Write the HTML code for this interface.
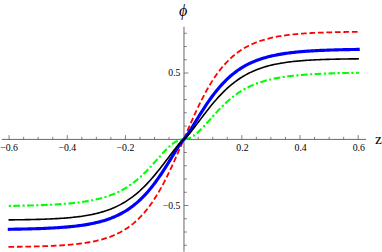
<!DOCTYPE html>
<html><head><meta charset="utf-8"><title>plot</title>
<style>
html,body{margin:0;padding:0;background:#fff;}
body{width:382px;height:252px;overflow:hidden;font-family:"Liberation Serif",serif;}
svg{display:block;}
text{font-family:"Liberation Serif",serif;fill:#000;}
</style></head><body>
<svg width="382" height="252" viewBox="0 0 382 252">
<rect width="382" height="252" fill="#fff"/>
<g stroke="#4d4d4d" stroke-width="0.85" fill="none">
<line x1="1.8" y1="139.40" x2="366" y2="139.40"/>
<line x1="183.97" y1="26.8" x2="183.97" y2="251.7"/>
</g>
<g stroke="#4d4d4d" stroke-width="0.7" fill="none">
<line x1="9.08" y1="139.40" x2="9.08" y2="135.10"/>
<line x1="23.63" y1="139.40" x2="23.63" y2="136.80"/>
<line x1="38.17" y1="139.40" x2="38.17" y2="136.80"/>
<line x1="52.72" y1="139.40" x2="52.72" y2="136.80"/>
<line x1="67.27" y1="139.40" x2="67.27" y2="135.10"/>
<line x1="81.81" y1="139.40" x2="81.81" y2="136.80"/>
<line x1="96.36" y1="139.40" x2="96.36" y2="136.80"/>
<line x1="110.91" y1="139.40" x2="110.91" y2="136.80"/>
<line x1="125.45" y1="139.40" x2="125.45" y2="135.10"/>
<line x1="140.00" y1="139.40" x2="140.00" y2="136.80"/>
<line x1="154.55" y1="139.40" x2="154.55" y2="136.80"/>
<line x1="169.09" y1="139.40" x2="169.09" y2="136.80"/>
<line x1="198.19" y1="139.40" x2="198.19" y2="136.80"/>
<line x1="212.73" y1="139.40" x2="212.73" y2="136.80"/>
<line x1="227.28" y1="139.40" x2="227.28" y2="136.80"/>
<line x1="241.83" y1="139.40" x2="241.83" y2="135.10"/>
<line x1="256.37" y1="139.40" x2="256.37" y2="136.80"/>
<line x1="270.92" y1="139.40" x2="270.92" y2="136.80"/>
<line x1="285.47" y1="139.40" x2="285.47" y2="136.80"/>
<line x1="300.01" y1="139.40" x2="300.01" y2="135.10"/>
<line x1="314.56" y1="139.40" x2="314.56" y2="136.80"/>
<line x1="329.11" y1="139.40" x2="329.11" y2="136.80"/>
<line x1="343.65" y1="139.40" x2="343.65" y2="136.80"/>
<line x1="358.20" y1="139.40" x2="358.20" y2="135.10"/>
<line x1="183.97" y1="245.27" x2="186.77" y2="245.27"/>
<line x1="183.97" y1="232.02" x2="186.77" y2="232.02"/>
<line x1="183.97" y1="218.77" x2="186.77" y2="218.77"/>
<line x1="183.97" y1="205.53" x2="188.47" y2="205.53"/>
<line x1="183.97" y1="192.28" x2="186.77" y2="192.28"/>
<line x1="183.97" y1="179.03" x2="186.77" y2="179.03"/>
<line x1="183.97" y1="165.78" x2="186.77" y2="165.78"/>
<line x1="183.97" y1="152.53" x2="186.77" y2="152.53"/>
<line x1="183.97" y1="126.03" x2="186.77" y2="126.03"/>
<line x1="183.97" y1="112.78" x2="186.77" y2="112.78"/>
<line x1="183.97" y1="99.53" x2="186.77" y2="99.53"/>
<line x1="183.97" y1="86.28" x2="186.77" y2="86.28"/>
<line x1="183.97" y1="73.03" x2="188.47" y2="73.03"/>
<line x1="183.97" y1="59.79" x2="186.77" y2="59.79"/>
<line x1="183.97" y1="46.54" x2="186.77" y2="46.54"/>
<line x1="183.97" y1="33.29" x2="186.77" y2="33.29"/>
</g>
<path d="M9.33 246.87 L10.78 246.86 L12.24 246.84 L13.69 246.82 L15.14 246.81 L16.60 246.79 L18.05 246.77 L19.50 246.75 L20.96 246.73 L22.41 246.71 L23.87 246.68 L25.32 246.66 L26.77 246.63 L28.23 246.61 L29.68 246.58 L31.13 246.55 L32.59 246.51 L34.04 246.48 L35.49 246.44 L36.95 246.41 L38.40 246.37 L39.85 246.32 L41.31 246.28 L42.76 246.23 L44.21 246.18 L45.67 246.13 L47.12 246.08 L48.57 246.02 L50.03 245.96 L51.48 245.89 L52.94 245.83 L54.39 245.76 L55.84 245.68 L57.30 245.60 L58.75 245.52 L60.20 245.43 L61.66 245.34 L63.11 245.24 L64.56 245.14 L66.02 245.03 L67.47 244.92 L68.92 244.80 L70.38 244.67 L71.83 244.53 L73.28 244.39 L74.74 244.25 L76.19 244.09 L77.64 243.92 L79.10 243.75 L80.55 243.57 L82.01 243.37 L83.46 243.17 L84.91 242.96 L86.37 242.73 L87.82 242.49 L89.27 242.24 L90.73 241.98 L92.18 241.70 L93.63 241.41 L95.09 241.10 L96.54 240.77 L97.99 240.43 L99.45 240.07 L100.90 239.69 L102.35 239.29 L103.81 238.86 L105.26 238.42 L106.71 237.95 L108.17 237.46 L109.62 236.94 L111.08 236.40 L112.53 235.82 L113.98 235.22 L115.44 234.58 L116.89 233.91 L118.34 233.21 L119.80 232.47 L121.25 231.69 L122.70 230.87 L124.16 230.01 L125.61 229.11 L127.06 228.16 L128.52 227.16 L129.97 226.11 L131.42 225.01 L132.88 223.86 L134.33 222.65 L135.78 221.38 L137.24 220.05 L138.69 218.66 L140.15 217.20 L141.60 215.68 L143.05 214.09 L144.51 212.42 L145.96 210.68 L147.41 208.87 L148.87 206.97 L150.32 205.00 L151.77 202.95 L153.23 200.82 L154.68 198.61 L156.13 196.31 L157.59 193.93 L159.04 191.46 L160.49 188.92 L161.95 186.29 L163.40 183.59 L164.85 180.80 L166.31 177.94 L167.76 175.01 L169.22 172.01 L170.67 168.94 L172.12 165.81 L173.58 162.63 L175.03 159.40 L176.48 156.13 L177.94 152.82 L179.39 149.48 L180.84 146.11 L182.30 142.74 L183.75 139.35 L185.20 135.96 L186.66 132.59 L188.11 129.22 L189.56 125.88 L191.02 122.57 L192.47 119.30 L193.92 116.07 L195.38 112.89 L196.83 109.76 L198.29 106.69 L199.74 103.69 L201.19 100.76 L202.65 97.90 L204.10 95.11 L205.55 92.41 L207.01 89.78 L208.46 87.24 L209.91 84.77 L211.37 82.39 L212.82 80.09 L214.27 77.88 L215.73 75.75 L217.18 73.70 L218.63 71.73 L220.09 69.83 L221.54 68.02 L222.99 66.28 L224.45 64.61 L225.90 63.02 L227.36 61.50 L228.81 60.04 L230.26 58.65 L231.72 57.32 L233.17 56.05 L234.62 54.84 L236.08 53.69 L237.53 52.59 L238.98 51.54 L240.44 50.54 L241.89 49.59 L243.34 48.69 L244.80 47.83 L246.25 47.01 L247.70 46.23 L249.16 45.49 L250.61 44.79 L252.06 44.12 L253.52 43.48 L254.97 42.88 L256.43 42.30 L257.88 41.76 L259.33 41.24 L260.79 40.75 L262.24 40.28 L263.69 39.84 L265.15 39.41 L266.60 39.01 L268.05 38.63 L269.51 38.27 L270.96 37.93 L272.41 37.60 L273.87 37.29 L275.32 37.00 L276.77 36.72 L278.23 36.46 L279.68 36.21 L281.13 35.97 L282.59 35.74 L284.04 35.53 L285.50 35.33 L286.95 35.13 L288.40 34.95 L289.86 34.78 L291.31 34.61 L292.76 34.45 L294.22 34.31 L295.67 34.17 L297.12 34.03 L298.58 33.90 L300.03 33.78 L301.48 33.67 L302.94 33.56 L304.39 33.46 L305.84 33.36 L307.30 33.27 L308.75 33.18 L310.20 33.10 L311.66 33.02 L313.11 32.94 L314.57 32.87 L316.02 32.81 L317.47 32.74 L318.93 32.68 L320.38 32.62 L321.83 32.57 L323.29 32.52 L324.74 32.47 L326.19 32.42 L327.65 32.38 L329.10 32.33 L330.55 32.29 L332.01 32.26 L333.46 32.22 L334.91 32.19 L336.37 32.15 L337.82 32.12 L339.27 32.09 L340.73 32.07 L342.18 32.04 L343.63 32.02 L345.09 31.99 L346.54 31.97 L348.00 31.95 L349.45 31.93 L350.90 31.91 L352.36 31.89 L353.81 31.88 L355.26 31.86 L356.72 31.84 L358.17 31.83" fill="none" stroke="#ff0000" stroke-width="1.8" stroke-dasharray="3.9 4.587" stroke-linejoin="round" stroke-linecap="square"/>
<path d="M9.33 205.93 L10.78 205.91 L12.24 205.89 L13.69 205.86 L15.14 205.84 L16.60 205.81 L18.05 205.78 L19.50 205.75 L20.96 205.72 L22.41 205.69 L23.87 205.66 L25.32 205.62 L26.77 205.59 L28.23 205.55 L29.68 205.51 L31.13 205.47 L32.59 205.43 L34.04 205.39 L35.49 205.34 L36.95 205.29 L38.40 205.24 L39.85 205.19 L41.31 205.14 L42.76 205.08 L44.21 205.02 L45.67 204.96 L47.12 204.89 L48.57 204.83 L50.03 204.75 L51.48 204.68 L52.94 204.60 L54.39 204.52 L55.84 204.44 L57.30 204.35 L58.75 204.26 L60.20 204.16 L61.66 204.06 L63.11 203.95 L64.56 203.84 L66.02 203.72 L67.47 203.60 L68.92 203.47 L70.38 203.34 L71.83 203.20 L73.28 203.05 L74.74 202.89 L76.19 202.73 L77.64 202.56 L79.10 202.38 L80.55 202.19 L82.01 201.99 L83.46 201.78 L84.91 201.57 L86.37 201.34 L87.82 201.10 L89.27 200.84 L90.73 200.58 L92.18 200.30 L93.63 200.00 L95.09 199.70 L96.54 199.37 L97.99 199.03 L99.45 198.67 L100.90 198.30 L102.35 197.90 L103.81 197.48 L105.26 197.05 L106.71 196.59 L108.17 196.11 L109.62 195.60 L111.08 195.07 L112.53 194.51 L113.98 193.92 L115.44 193.30 L116.89 192.65 L118.34 191.98 L119.80 191.26 L121.25 190.52 L122.70 189.74 L124.16 188.92 L125.61 188.06 L127.06 187.17 L128.52 186.23 L129.97 185.25 L131.42 184.23 L132.88 183.17 L134.33 182.07 L135.78 180.92 L137.24 179.72 L138.69 178.48 L140.15 177.20 L141.60 175.87 L143.05 174.50 L144.51 173.09 L145.96 171.64 L147.41 170.15 L148.87 168.63 L150.32 167.08 L151.77 165.50 L153.23 163.89 L154.68 162.27 L156.13 160.64 L157.59 159.00 L159.04 157.36 L160.49 155.73 L161.95 154.13 L163.40 152.55 L164.85 151.01 L166.31 149.51 L167.76 148.08 L169.22 146.72 L170.67 145.43 L172.12 144.25 L173.58 143.16 L175.03 142.20 L176.48 141.36 L177.94 140.65 L179.39 140.09 L180.84 139.68 L182.30 139.43 L183.75 139.35 L185.20 139.27 L186.66 139.02 L188.11 138.61 L189.56 138.05 L191.02 137.34 L192.47 136.50 L193.92 135.54 L195.38 134.45 L196.83 133.27 L198.29 131.98 L199.74 130.62 L201.19 129.19 L202.65 127.69 L204.10 126.15 L205.55 124.57 L207.01 122.97 L208.46 121.34 L209.91 119.70 L211.37 118.06 L212.82 116.43 L214.27 114.81 L215.73 113.20 L217.18 111.62 L218.63 110.07 L220.09 108.55 L221.54 107.06 L222.99 105.61 L224.45 104.20 L225.90 102.83 L227.36 101.50 L228.81 100.22 L230.26 98.98 L231.72 97.78 L233.17 96.63 L234.62 95.53 L236.08 94.47 L237.53 93.45 L238.98 92.47 L240.44 91.53 L241.89 90.64 L243.34 89.78 L244.80 88.96 L246.25 88.18 L247.70 87.44 L249.16 86.72 L250.61 86.05 L252.06 85.40 L253.52 84.78 L254.97 84.19 L256.43 83.63 L257.88 83.10 L259.33 82.59 L260.79 82.11 L262.24 81.65 L263.69 81.22 L265.15 80.80 L266.60 80.40 L268.05 80.03 L269.51 79.67 L270.96 79.33 L272.41 79.00 L273.87 78.70 L275.32 78.40 L276.77 78.12 L278.23 77.86 L279.68 77.60 L281.13 77.36 L282.59 77.13 L284.04 76.92 L285.50 76.71 L286.95 76.51 L288.40 76.32 L289.86 76.14 L291.31 75.97 L292.76 75.81 L294.22 75.65 L295.67 75.50 L297.12 75.36 L298.58 75.23 L300.03 75.10 L301.48 74.98 L302.94 74.86 L304.39 74.75 L305.84 74.64 L307.30 74.54 L308.75 74.44 L310.20 74.35 L311.66 74.26 L313.11 74.18 L314.57 74.10 L316.02 74.02 L317.47 73.95 L318.93 73.87 L320.38 73.81 L321.83 73.74 L323.29 73.68 L324.74 73.62 L326.19 73.56 L327.65 73.51 L329.10 73.46 L330.55 73.41 L332.01 73.36 L333.46 73.31 L334.91 73.27 L336.37 73.23 L337.82 73.19 L339.27 73.15 L340.73 73.11 L342.18 73.08 L343.63 73.04 L345.09 73.01 L346.54 72.98 L348.00 72.95 L349.45 72.92 L350.90 72.89 L352.36 72.86 L353.81 72.84 L355.26 72.81 L356.72 72.79 L358.17 72.77" fill="none" stroke="#00ff00" stroke-width="2.1" stroke-dasharray="0 4.59 4.59 4.59" stroke-dashoffset="-0.5" stroke-linejoin="round" stroke-linecap="square"/>
<path d="M9.33 229.28 L10.78 229.26 L12.24 229.24 L13.69 229.21 L15.14 229.19 L16.60 229.16 L18.05 229.14 L19.50 229.11 L20.96 229.08 L22.41 229.05 L23.87 229.02 L25.32 228.98 L26.77 228.95 L28.23 228.91 L29.68 228.87 L31.13 228.84 L32.59 228.79 L34.04 228.75 L35.49 228.71 L36.95 228.66 L38.40 228.61 L39.85 228.56 L41.31 228.50 L42.76 228.45 L44.21 228.39 L45.67 228.32 L47.12 228.26 L48.57 228.19 L50.03 228.12 L51.48 228.04 L52.94 227.97 L54.39 227.88 L55.84 227.80 L57.30 227.71 L58.75 227.61 L60.20 227.51 L61.66 227.41 L63.11 227.30 L64.56 227.19 L66.02 227.07 L67.47 226.94 L68.92 226.81 L70.38 226.67 L71.83 226.52 L73.28 226.37 L74.74 226.21 L76.19 226.04 L77.64 225.87 L79.10 225.68 L80.55 225.48 L82.01 225.28 L83.46 225.07 L84.91 224.84 L86.37 224.60 L87.82 224.35 L89.27 224.09 L90.73 223.82 L92.18 223.53 L93.63 223.23 L95.09 222.91 L96.54 222.58 L97.99 222.22 L99.45 221.86 L100.90 221.47 L102.35 221.06 L103.81 220.64 L105.26 220.19 L106.71 219.72 L108.17 219.22 L109.62 218.70 L111.08 218.16 L112.53 217.58 L113.98 216.98 L115.44 216.35 L116.89 215.69 L118.34 215.00 L119.80 214.27 L121.25 213.51 L122.70 212.71 L124.16 211.88 L125.61 211.00 L127.06 210.09 L128.52 209.13 L129.97 208.13 L131.42 207.08 L132.88 205.99 L134.33 204.84 L135.78 203.65 L137.24 202.41 L138.69 201.11 L140.15 199.76 L141.60 198.36 L143.05 196.90 L144.51 195.39 L145.96 193.82 L147.41 192.19 L148.87 190.50 L150.32 188.76 L151.77 186.96 L153.23 185.10 L154.68 183.18 L156.13 181.21 L157.59 179.19 L159.04 177.11 L160.49 174.99 L161.95 172.82 L163.40 170.61 L164.85 168.36 L166.31 166.07 L167.76 163.76 L169.22 161.42 L170.67 159.06 L172.12 156.70 L173.58 154.34 L175.03 151.98 L176.48 149.65 L177.94 147.36 L179.39 145.13 L180.84 142.99 L182.30 141.00 L183.75 139.35 L185.20 137.70 L186.66 135.71 L188.11 133.57 L189.56 131.34 L191.02 129.05 L192.47 126.72 L193.92 124.36 L195.38 122.00 L196.83 119.64 L198.29 117.28 L199.74 114.94 L201.19 112.63 L202.65 110.34 L204.10 108.09 L205.55 105.88 L207.01 103.71 L208.46 101.59 L209.91 99.51 L211.37 97.49 L212.82 95.52 L214.27 93.60 L215.73 91.74 L217.18 89.94 L218.63 88.20 L220.09 86.51 L221.54 84.88 L222.99 83.31 L224.45 81.80 L225.90 80.34 L227.36 78.94 L228.81 77.59 L230.26 76.29 L231.72 75.05 L233.17 73.86 L234.62 72.71 L236.08 71.62 L237.53 70.57 L238.98 69.57 L240.44 68.61 L241.89 67.70 L243.34 66.82 L244.80 65.99 L246.25 65.19 L247.70 64.43 L249.16 63.70 L250.61 63.01 L252.06 62.35 L253.52 61.72 L254.97 61.12 L256.43 60.54 L257.88 60.00 L259.33 59.48 L260.79 58.98 L262.24 58.51 L263.69 58.06 L265.15 57.64 L266.60 57.23 L268.05 56.84 L269.51 56.48 L270.96 56.12 L272.41 55.79 L273.87 55.47 L275.32 55.17 L276.77 54.88 L278.23 54.61 L279.68 54.35 L281.13 54.10 L282.59 53.86 L284.04 53.63 L285.50 53.42 L286.95 53.22 L288.40 53.02 L289.86 52.83 L291.31 52.66 L292.76 52.49 L294.22 52.33 L295.67 52.18 L297.12 52.03 L298.58 51.89 L300.03 51.76 L301.48 51.63 L302.94 51.51 L304.39 51.40 L305.84 51.29 L307.30 51.19 L308.75 51.09 L310.20 50.99 L311.66 50.90 L313.11 50.82 L314.57 50.73 L316.02 50.66 L317.47 50.58 L318.93 50.51 L320.38 50.44 L321.83 50.38 L323.29 50.31 L324.74 50.25 L326.19 50.20 L327.65 50.14 L329.10 50.09 L330.55 50.04 L332.01 49.99 L333.46 49.95 L334.91 49.91 L336.37 49.86 L337.82 49.83 L339.27 49.79 L340.73 49.75 L342.18 49.72 L343.63 49.68 L345.09 49.65 L346.54 49.62 L348.00 49.59 L349.45 49.56 L350.90 49.54 L352.36 49.51 L353.81 49.49 L355.26 49.46 L356.72 49.44 L358.17 49.42" fill="none" stroke="#0000ff" stroke-width="3.15" stroke-linejoin="round" stroke-linecap="square"/>
<path d="M9.33 219.88 L10.78 219.87 L12.24 219.85 L13.69 219.83 L15.14 219.82 L16.60 219.80 L18.05 219.78 L19.50 219.76 L20.96 219.74 L22.41 219.72 L23.87 219.69 L25.32 219.67 L26.77 219.64 L28.23 219.61 L29.68 219.59 L31.13 219.55 L32.59 219.52 L34.04 219.49 L35.49 219.45 L36.95 219.41 L38.40 219.37 L39.85 219.33 L41.31 219.28 L42.76 219.23 L44.21 219.18 L45.67 219.13 L47.12 219.07 L48.57 219.01 L50.03 218.95 L51.48 218.88 L52.94 218.81 L54.39 218.74 L55.84 218.66 L57.30 218.58 L58.75 218.49 L60.20 218.40 L61.66 218.30 L63.11 218.20 L64.56 218.09 L66.02 217.98 L67.47 217.86 L68.92 217.73 L70.38 217.59 L71.83 217.45 L73.28 217.30 L74.74 217.15 L76.19 216.98 L77.64 216.80 L79.10 216.62 L80.55 216.42 L82.01 216.22 L83.46 216.00 L84.91 215.78 L86.37 215.54 L87.82 215.28 L89.27 215.02 L90.73 214.74 L92.18 214.44 L93.63 214.13 L95.09 213.80 L96.54 213.46 L97.99 213.10 L99.45 212.72 L100.90 212.31 L102.35 211.89 L103.81 211.45 L105.26 210.99 L106.71 210.50 L108.17 209.99 L109.62 209.45 L111.08 208.89 L112.53 208.30 L113.98 207.68 L115.44 207.03 L116.89 206.35 L118.34 205.64 L119.80 204.90 L121.25 204.12 L122.70 203.31 L124.16 202.46 L125.61 201.58 L127.06 200.66 L128.52 199.70 L129.97 198.69 L131.42 197.65 L132.88 196.57 L134.33 195.44 L135.78 194.28 L137.24 193.06 L138.69 191.81 L140.15 190.51 L141.60 189.16 L143.05 187.78 L144.51 186.34 L145.96 184.87 L147.41 183.35 L148.87 181.79 L150.32 180.18 L151.77 178.54 L153.23 176.86 L154.68 175.14 L156.13 173.38 L157.59 171.59 L159.04 169.77 L160.49 167.93 L161.95 166.06 L163.40 164.17 L164.85 162.26 L166.31 160.34 L167.76 158.42 L169.22 156.49 L170.67 154.57 L172.12 152.66 L173.58 150.77 L175.03 148.91 L176.48 147.08 L177.94 145.31 L179.39 143.60 L180.84 141.99 L182.30 140.51 L183.75 139.35 L185.20 138.19 L186.66 136.71 L188.11 135.10 L189.56 133.39 L191.02 131.62 L192.47 129.79 L193.92 127.93 L195.38 126.04 L196.83 124.13 L198.29 122.21 L199.74 120.28 L201.19 118.36 L202.65 116.44 L204.10 114.53 L205.55 112.64 L207.01 110.77 L208.46 108.93 L209.91 107.11 L211.37 105.32 L212.82 103.56 L214.27 101.84 L215.73 100.16 L217.18 98.52 L218.63 96.91 L220.09 95.35 L221.54 93.83 L222.99 92.36 L224.45 90.92 L225.90 89.54 L227.36 88.19 L228.81 86.89 L230.26 85.64 L231.72 84.42 L233.17 83.26 L234.62 82.13 L236.08 81.05 L237.53 80.01 L238.98 79.00 L240.44 78.04 L241.89 77.12 L243.34 76.24 L244.80 75.39 L246.25 74.58 L247.70 73.80 L249.16 73.06 L250.61 72.35 L252.06 71.67 L253.52 71.02 L254.97 70.40 L256.43 69.81 L257.88 69.25 L259.33 68.71 L260.79 68.20 L262.24 67.71 L263.69 67.25 L265.15 66.81 L266.60 66.39 L268.05 65.98 L269.51 65.60 L270.96 65.24 L272.41 64.90 L273.87 64.57 L275.32 64.26 L276.77 63.96 L278.23 63.68 L279.68 63.42 L281.13 63.16 L282.59 62.92 L284.04 62.70 L285.50 62.48 L286.95 62.28 L288.40 62.08 L289.86 61.90 L291.31 61.72 L292.76 61.55 L294.22 61.40 L295.67 61.25 L297.12 61.11 L298.58 60.97 L300.03 60.84 L301.48 60.72 L302.94 60.61 L304.39 60.50 L305.84 60.40 L307.30 60.30 L308.75 60.21 L310.20 60.12 L311.66 60.04 L313.11 59.96 L314.57 59.89 L316.02 59.82 L317.47 59.75 L318.93 59.69 L320.38 59.63 L321.83 59.57 L323.29 59.52 L324.74 59.47 L326.19 59.42 L327.65 59.37 L329.10 59.33 L330.55 59.29 L332.01 59.25 L333.46 59.21 L334.91 59.18 L336.37 59.15 L337.82 59.11 L339.27 59.09 L340.73 59.06 L342.18 59.03 L343.63 59.01 L345.09 58.98 L346.54 58.96 L348.00 58.94 L349.45 58.92 L350.90 58.90 L352.36 58.88 L353.81 58.87 L355.26 58.85 L356.72 58.83 L358.17 58.82" fill="none" stroke="#000000" stroke-width="1.6" stroke-linejoin="round" stroke-linecap="square"/>
<text x="0.2" y="150.6" font-size="9.8">−0.6</text>
<text x="58.4" y="150.6" font-size="9.8">−0.4</text>
<text x="116.6" y="150.6" font-size="9.8">−0.2</text>
<text x="236.3" y="150.6" font-size="9.8">0.2</text>
<text x="294.5" y="150.6" font-size="9.8">0.4</text>
<text x="352.7" y="150.6" font-size="9.8">0.6</text>
<text x="162.8" y="209" font-size="9.7">−0.5</text>
<text x="168.3" y="76.45" font-size="9.7">0.5</text>
<text x="375" y="144.4" font-size="15.5">z</text>
<text x="179" y="15.6" font-size="16" font-style="italic">ϕ</text>
</svg>
</body></html>
